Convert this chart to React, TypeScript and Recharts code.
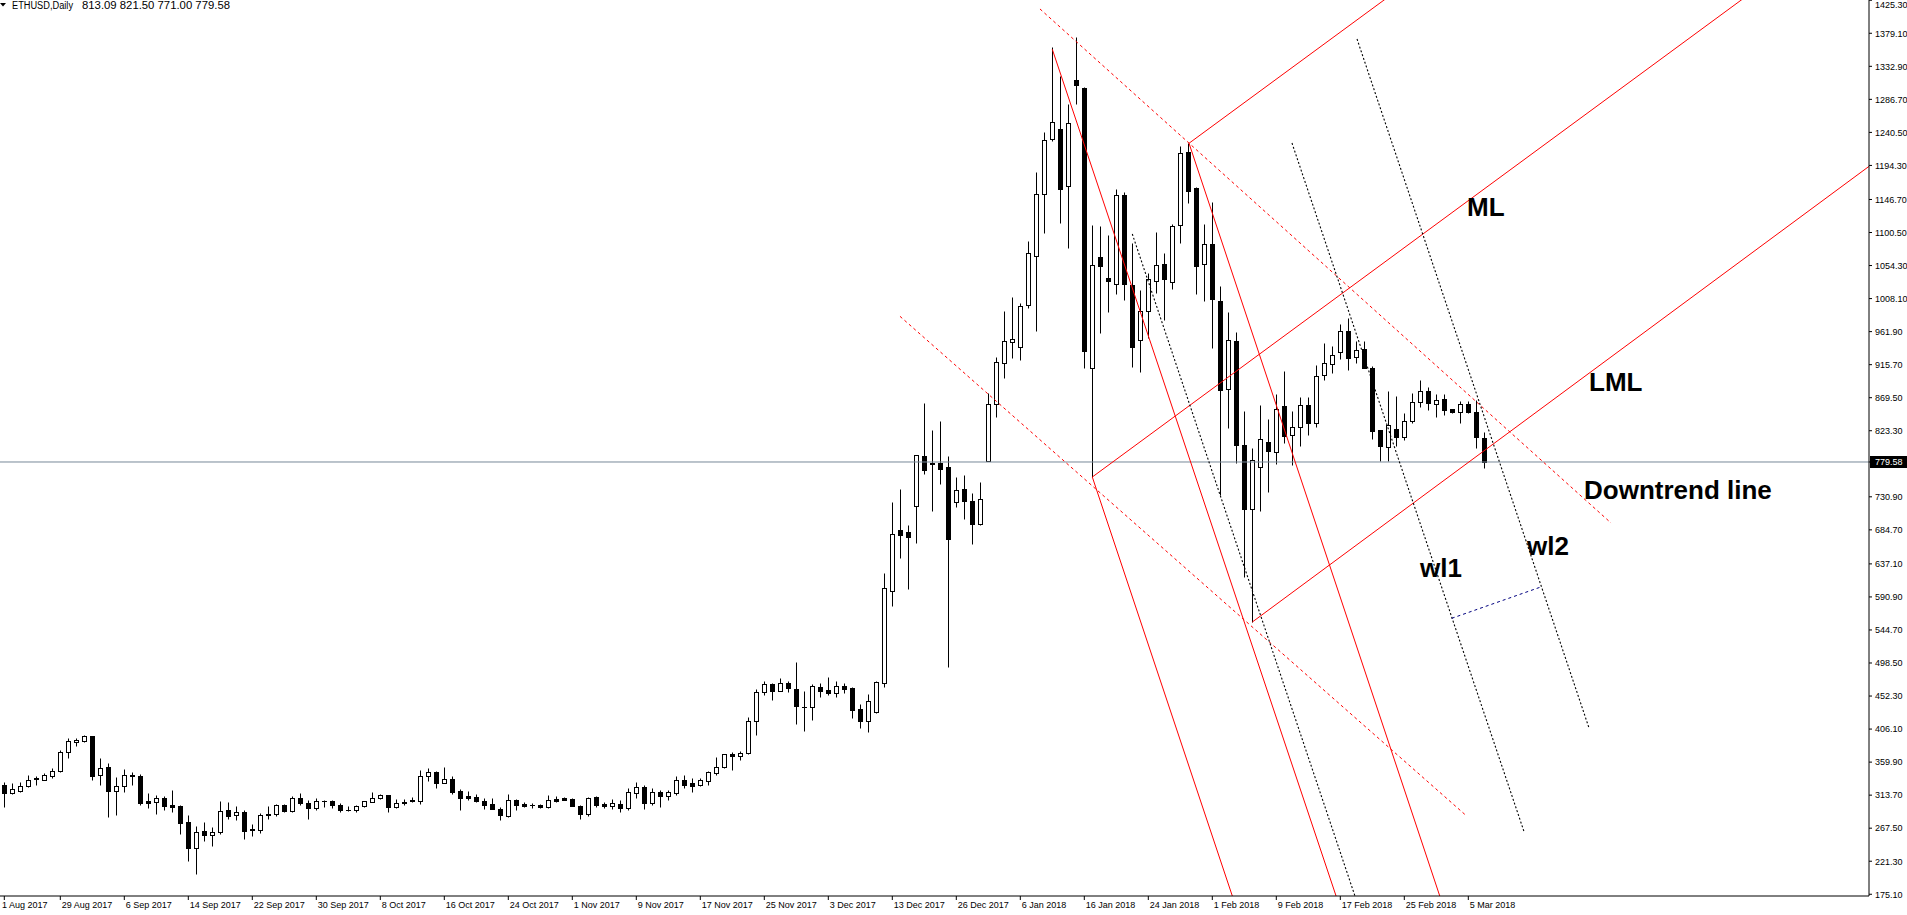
import React from 'react';
import { ComposedChart, Bar, XAxis, YAxis, ReferenceLine } from 'recharts';

// ---- candle values (bar index 0 = first visible bar) ----
const opens = [
  327.7, 317.4, 319.8, 326.8, 336.1, 335.2, 340.8, 346.8, 373.4, 388.4,
  389.8, 395.8, 341.2, 352.4, 320.2, 325.8, 341.7, 340.3, 305.3, 304.8,
  309.5, 299.7, 298.3, 275.9, 240.0, 263.3, 258.2, 262.4, 292.7, 286.2,
  290.8, 265.2, 265.6, 288.0, 288.0, 300.6, 292.2, 310.4, 303.4, 296.4,
  306.2, 305.3, 300.6, 293.6, 293.6, 299.2, 304.8, 310.4, 313.7, 296.9,
  303.4, 305.3, 305.8, 339.8, 345.9, 331.0, 335.6, 319.3, 312.3, 311.8,
  306.2, 301.1, 295.0, 284.8, 307.6, 301.6, 300.2, 300.2, 297.4, 308.5,
  309.5, 309.0, 299.2, 288.0, 310.9, 301.6, 299.2, 302.0, 295.9, 317.0,
  324.9, 302.9, 317.9, 312.8, 317.4, 334.7, 330.5, 327.2, 333.8, 345.0,
  352.4, 371.1, 367.8, 372.0, 416.8, 457.4, 468.6, 459.8, 470.0, 462.2,
  437.0, 436.5, 465.0, 460.8, 456.1, 466.3, 463.6, 433.7, 417.9, 430.5,
  471.0, 598.7, 684.5, 681.2, 717.6, 788.0, 777.7, 777.7, 772.6, 724.1,
  741.4, 725.0, 692.4, 781.4, 861.1, 917.5, 946.9, 939.9, 999.6, 1068.2,
  1153.9, 1230.8, 1245.3, 1165.1, 1313.8, 1302.6, 910.6, 1065.8, 1036.9, 1028.1,
  1152.5, 1026.7, 949.8, 990.3, 1032.7, 1056.0, 1030.9, 1110.6, 1213.1, 1162.8,
  1056.0, 1084.0, 1004.8, 881.2, 948.4, 802.9, 713.4, 772.1, 807.1, 794.0,
  857.4, 816.9, 829.0, 858.8, 834.6, 900.8, 916.1, 932.9, 962.3, 925.9,
  937.6, 910.5, 823.9, 800.6, 825.7, 815.0, 836.4, 863.0, 878.9, 860.2,
  867.2, 853.2, 849.0, 860.2, 849.0, 813.09,
];

const highs = [
  331.4, 330.0, 331.4, 341.7, 339.8, 344.5, 352.0, 376.7, 393.0, 393.5,
  397.7, 396.5, 365.5, 358.5, 338.9, 350.1, 345.9, 343.1, 317.4, 313.7,
  313.2, 320.7, 300.6, 285.7, 270.3, 276.8, 268.9, 305.3, 303.9, 298.3,
  292.7, 274.0, 289.4, 298.3, 301.6, 301.1, 313.2, 316.5, 307.6, 310.4,
  307.6, 307.6, 303.4, 299.2, 300.6, 306.2, 317.9, 316.0, 314.6, 308.1,
  308.1, 310.9, 349.2, 351.5, 347.8, 352.9, 340.3, 322.1, 319.3, 315.1,
  309.5, 309.5, 297.4, 315.1, 308.0, 304.4, 303.4, 301.6, 313.7, 313.2,
  311.8, 309.5, 300.2, 310.9, 312.3, 303.9, 308.1, 306.7, 323.5, 331.9,
  327.7, 323.5, 320.7, 321.2, 340.8, 341.7, 337.5, 337.5, 346.8, 367.4,
  371.1, 373.4, 374.8, 422.9, 462.1, 473.3, 470.0, 477.0, 473.3, 500.0,
  459.4, 469.2, 470.6, 478.9, 473.4, 470.6, 465.0, 441.2, 455.2, 473.4,
  624.4, 723.6, 741.8, 691.5, 788.9, 862.1, 824.3, 836.9, 788.0, 758.6,
  761.4, 736.2, 751.6, 876.1, 926.4, 990.7, 1010.3, 1001.4, 1088.7, 1184.7,
  1241.1, 1359.5, 1319.4, 1279.8, 1373.4, 1303.5, 1111.0, 1109.6, 1097.0, 1160.9,
  1157.6, 1085.4, 1020.1, 1043.4, 1101.2, 1071.4, 1112.9, 1221.5, 1226.2, 1163.5,
  1112.4, 1143.2, 1025.7, 989.4, 961.4, 850.9, 799.6, 858.8, 839.7, 874.7,
  906.8, 850.9, 870.9, 870.9, 914.7, 946.0, 942.2, 972.5, 980.9, 949.2,
  949.2, 914.3, 824.5, 878.9, 871.9, 848.6, 876.5, 894.7, 884.4, 874.2,
  874.2, 854.0, 864.4, 864.4, 866.3, 821.5,
];

const lows = [
  297.4, 316.0, 318.4, 325.4, 328.2, 334.2, 337.9, 345.4, 366.0, 382.8,
  388.4, 335.2, 327.7, 283.4, 285.7, 318.4, 328.2, 300.2, 295.9, 287.6,
  293.2, 290.4, 259.6, 221.8, 204.0, 249.8, 242.8, 259.6, 281.0, 279.2,
  252.6, 256.8, 260.5, 280.1, 284.8, 290.4, 290.4, 300.2, 280.6, 293.2,
  297.4, 295.9, 290.4, 291.8, 290.4, 297.8, 303.9, 309.0, 290.4, 295.5,
  300.2, 304.8, 301.6, 333.8, 323.5, 330.5, 315.6, 293.2, 306.7, 303.9,
  294.1, 294.1, 279.2, 283.4, 293.2, 297.4, 296.4, 295.9, 295.5, 303.9,
  307.1, 298.5, 280.6, 284.8, 297.4, 295.9, 294.1, 290.4, 293.2, 310.0,
  294.6, 300.2, 297.4, 306.7, 314.2, 323.5, 317.9, 326.8, 328.2, 342.2,
  352.0, 349.2, 362.2, 371.5, 398.2, 454.2, 447.2, 459.0, 458.4, 413.7,
  403.9, 419.3, 451.4, 454.2, 451.4, 457.0, 422.1, 408.1, 402.5, 428.1,
  465.4, 578.7, 645.8, 602.5, 666.8, 763.3, 711.5, 749.3, 493.4, 717.1,
  700.3, 665.4, 692.0, 781.0, 843.0, 897.5, 925.5, 922.7, 994.5, 963.3,
  1100.3, 1228.9, 1114.3, 1079.3, 1280.2, 911.5, 758.0, 959.6, 989.8, 1015.0,
  1006.1, 912.0, 905.0, 952.6, 1015.5, 978.2, 1021.1, 1085.4, 1141.3, 1015.0,
  1005.2, 939.5, 733.4, 827.2, 778.6, 619.2, 555.8, 710.6, 738.1, 776.3,
  805.7, 774.9, 802.0, 817.3, 829.0, 894.2, 904.5, 924.1, 907.8, 918.5,
  911.0, 811.7, 781.0, 781.0, 801.9, 810.3, 834.6, 857.0, 852.3, 842.0,
  844.8, 848.0, 833.6, 847.6, 798.7, 771.0,
];

const closes = [
  317.0, 322.1, 325.8, 334.7, 337.0, 341.2, 347.3, 373.9, 388.8, 390.2,
  395.8, 340.8, 351.9, 319.8, 325.8, 341.2, 339.8, 303.0, 303.0, 309.5,
  298.8, 297.4, 275.0, 240.0, 262.8, 258.2, 262.8, 292.2, 284.8, 290.8,
  263.8, 266.1, 286.6, 286.2, 300.6, 291.8, 310.4, 303.4, 295.9, 306.2,
  305.0, 300.2, 293.2, 292.7, 299.2, 305.3, 310.4, 313.7, 297.4, 303.4,
  304.8, 306.7, 340.3, 345.4, 331.0, 335.6, 318.4, 310.0, 309.5, 305.8,
  300.6, 294.6, 286.2, 307.6, 300.2, 298.8, 299.7, 297.4, 307.6, 305.8,
  307.6, 298.8, 287.6, 310.4, 300.2, 299.2, 302.5, 295.9, 317.9, 324.9,
  302.9, 317.9, 312.8, 317.9, 334.7, 328.2, 326.8, 334.2, 345.4, 352.9,
  370.6, 367.8, 372.5, 416.8, 457.4, 468.6, 459.8, 470.0, 464.0, 438.8,
  436.5, 465.9, 459.8, 457.0, 465.9, 462.6, 433.3, 417.9, 444.9, 471.5,
  602.9, 678.4, 678.0, 675.2, 788.9, 768.9, 777.0, 770.3, 672.4, 740.0,
  725.5, 693.3, 727.4, 860.2, 918.9, 948.3, 951.1, 997.7, 1071.4, 1153.9,
  1229.4, 1254.6, 1161.8, 1253.2, 1307.3, 935.3, 1054.6, 1054.2, 1032.3, 1152.5,
  1028.1, 940.0, 990.3, 1035.0, 1054.6, 1035.0, 1109.2, 1211.2, 1159.0, 1054.2,
  1084.0, 1008.0, 880.8, 949.8, 803.6, 714.3, 781.9, 811.3, 795.4, 853.7,
  815.9, 828.5, 858.8, 834.6, 899.4, 917.5, 929.2, 962.3, 924.5, 935.7,
  911.5, 823.4, 802.4, 830.9, 815.0, 836.4, 863.0, 878.4, 861.6, 865.8,
  852.8, 849.0, 860.2, 850.0, 815.0, 779.58,
];

// ---- axis ticks ----
const dateTickIndex = [0, 7, 15, 23, 31, 39, 47, 55, 63, 71, 79, 87, 95, 103, 111, 119, 127, 135, 143, 151, 159, 167, 175, 183];
const dateTickLabels = [
  '1 Aug 2017', '29 Aug 2017', '6 Sep 2017', '14 Sep 2017', '22 Sep 2017', '30 Sep 2017', '8 Oct 2017',
  '16 Oct 2017', '24 Oct 2017', '1 Nov 2017', '9 Nov 2017', '17 Nov 2017', '25 Nov 2017', '3 Dec 2017',
  '13 Dec 2017', '26 Dec 2017', '6 Jan 2018', '16 Jan 2018', '24 Jan 2018', '1 Feb 2018', '9 Feb 2018',
  '17 Feb 2018', '25 Feb 2018', '5 Mar 2018',
];
const priceTicks = [
  175.1, 221.3, 267.5, 313.7, 359.9, 406.1, 452.3, 498.5, 544.7, 590.9, 637.1, 684.7, 730.9,
  823.3, 869.5, 915.7, 961.9, 1008.1, 1054.3, 1100.5, 1146.7, 1194.3, 1240.5, 1286.7, 1332.9, 1379.1, 1425.3,
];
const lastPrice = 779.58;
const titleSymbol = 'ETHUSD,Daily';
const titleValues = '813.09 821.50 771.00 779.58';

// ---- drawn objects: [barIndex1, price1, barIndex2, price2] ----
const redSolidLines = [
  [131.0, 1356.7, 166.64, 167.1],
  [148.09, 1225.3, 179.6, 167.1],
  [136.0, 758.6, 153.67, 167.1],
  [148.09, 1225.3, 173.32, 1432.6],
  [136.0, 758.6, 217.97, 1432.6],
  [156.0, 555.8, 233.86, 1199.4],
];
const redDashedLines = [
  [129.46, 1413.1, 200.84, 694.3],
  [111.96, 983.3, 182.8, 284.5],
];
const blackDottedLines = [
  [141.0, 1098.4, 169.0, 167.1],
  [160.96, 1225.6, 189.98, 262.2],
  [169.09, 1371.1, 198.09, 407.6],
];
const blueDottedLines = [
  [180.93, 561.0, 192.17, 605.2],
];

const data = opens.map((o, i) => ({ i, open: o, high: highs[i], low: lows[i], close: closes[i] }));

const W = 1907;
const H = 915;
const X_DOMAIN: [number, number] = [-0.5375, 233.0875];
const Y_DOMAIN: [number, number] = [172.67, 1425.64];
const FONT = "'Liberation Sans', Arial, sans-serif";

const Candle = (props: any) => {
  const { x, y, width, height, payload } = props;
  if (x == null || y == null || !payload) return null;
  const { open, high, low, close } = payload;
  const top = Math.min(y, y + height);
  const bottom = Math.max(y, y + height);
  const range = high - low;
  const toY = (p: number) => (range > 0 ? top + ((bottom - top) * (high - p)) / range : top);
  const cx = Math.floor(x + width / 2) + 0.5;
  const yh = Math.round(toY(high)) + 0.5;
  const yl = Math.round(toY(low)) + 0.5;
  const yo = Math.round(toY(open)) + 0.5;
  const yc = Math.round(toY(close)) + 0.5;
  const bt = Math.min(yo, yc);
  const bb = Math.max(yo, yc);
  const bull = close >= open;
  return (
    <g>
      <line x1={cx} x2={cx} y1={yh} y2={yl} stroke="#000" strokeWidth={1} />
      {bb - bt < 1 ? (
        <line x1={cx - 2.5} x2={cx + 2.5} y1={bt} y2={bt} stroke="#000" strokeWidth={1} />
      ) : (
        <rect x={cx - 2} y={bt} width={4} height={bb - bt} fill={bull ? '#fff' : '#000'} stroke="#000" strokeWidth={1} />
      )}
    </g>
  );
};

const DateTick = (props: any) => {
  const { x, y, payload } = props;
  const idx = dateTickIndex.indexOf(payload.value);
  const label = idx >= 0 ? dateTickLabels[idx] : '';
  const tx = idx === 0 ? 2 : x + 1.5;
  return (
    <text x={tx} y={y + 8} fontSize={9} fontFamily={FONT} fill="#000" textAnchor="start">
      {label}
    </text>
  );
};

const PriceTick = (props: any) => {
  const { x, y, payload } = props;
  const v = payload.value as number;
  if (Math.abs(v - lastPrice) < 0.001) {
    return (
      <g>
        <rect x={1870} y={y - 6} width={37} height={12} fill="#000" />
        <text x={x + 1} y={y + 3.3} fontSize={9} fontFamily={FONT} fill="#fff" textAnchor="start">
          {v.toFixed(2)}
        </text>
      </g>
    );
  }
  const ty = Math.max(y + 3.3, 8);
  return (
    <text x={x + 1} y={ty} fontSize={9} fontFamily={FONT} fill="#000" textAnchor="start">
      {v.toFixed(2)}
    </text>
  );
};

const seg = (s: number[]) => [
  { x: s[0], y: s[1] },
  { x: s[2], y: s[3] },
];

export default function App() {
  return (
    <div style={{ position: 'relative', width: W, height: H, background: '#fff' }}>
      <style>{'html,body{margin:0;padding:0;background:#fff;}'}</style>
      <ComposedChart width={W} height={H} data={data} margin={{ top: 0, right: 0, bottom: 0, left: 0 }}>
        <XAxis
          dataKey="i"
          type="number"
          domain={X_DOMAIN}
          allowDataOverflow
          ticks={dateTickIndex}
          interval={0}
          tick={<DateTick />}
          tickSize={4}
          tickMargin={0}
          height={19}
          axisLine={{ stroke: '#000' }}
          tickLine={{ stroke: '#000' }}
        />
        <YAxis
          orientation="right"
          type="number"
          domain={Y_DOMAIN}
          allowDataOverflow
          ticks={[...priceTicks, lastPrice]}
          interval={0}
          tick={<PriceTick />}
          tickSize={3}
          tickMargin={2}
          width={38}
          axisLine={{ stroke: '#000' }}
          tickLine={{ stroke: '#000' }}
        />
        <Bar
          dataKey={(d: any) => [d.low, d.high]}
          barSize={6}
          shape={(p: any) => <Candle {...p} />}
          isAnimationActive={false}
        />
        <ReferenceLine y={lastPrice} stroke="#778899" strokeWidth={1} ifOverflow="hidden" />
        {redDashedLines.map((s, k) => (
          <ReferenceLine key={'rd' + k} segment={seg(s)} stroke="#ff0000" strokeWidth={1} strokeDasharray="3 3" ifOverflow="hidden" />
        ))}
        {redSolidLines.map((s, k) => (
          <ReferenceLine key={'rs' + k} segment={seg(s)} stroke="#ff0000" strokeWidth={1} ifOverflow="hidden" />
        ))}
        {blackDottedLines.map((s, k) => (
          <ReferenceLine key={'bd' + k} segment={seg(s)} stroke="#000" strokeWidth={1.1} strokeDasharray="2 2" ifOverflow="hidden" />
        ))}
        {blueDottedLines.map((s, k) => (
          <ReferenceLine key={'bl' + k} segment={seg(s)} stroke="#000080" strokeWidth={1} strokeDasharray="3 3" ifOverflow="hidden" />
        ))}
      </ComposedChart>
      <svg width={W} height={H} style={{ position: 'absolute', left: 0, top: 0, pointerEvents: 'none' }}>
        <polygon points="0,3 6,3 3,6.5" fill="#000" />
        <text x={12} y={9} fontSize={10} fontFamily={FONT} fill="#000" textLength={61} lengthAdjust="spacingAndGlyphs">
          {titleSymbol}
        </text>
        <text x={82} y={9} fontSize={10} fontFamily={FONT} fill="#000" textLength={148} lengthAdjust="spacingAndGlyphs">
          {titleValues}
        </text>
        <g fontFamily={FONT} fontWeight="bold" fontSize={26} fill="#000">
          <text x={1467} y={216}>ML</text>
          <text x={1589} y={391}>LML</text>
          <text x={1584} y={499}>Downtrend line</text>
          <text x={1420} y={577}>wl1</text>
          <text x={1527} y={555}>wl2</text>
        </g>
      </svg>
    </div>
  );
}
